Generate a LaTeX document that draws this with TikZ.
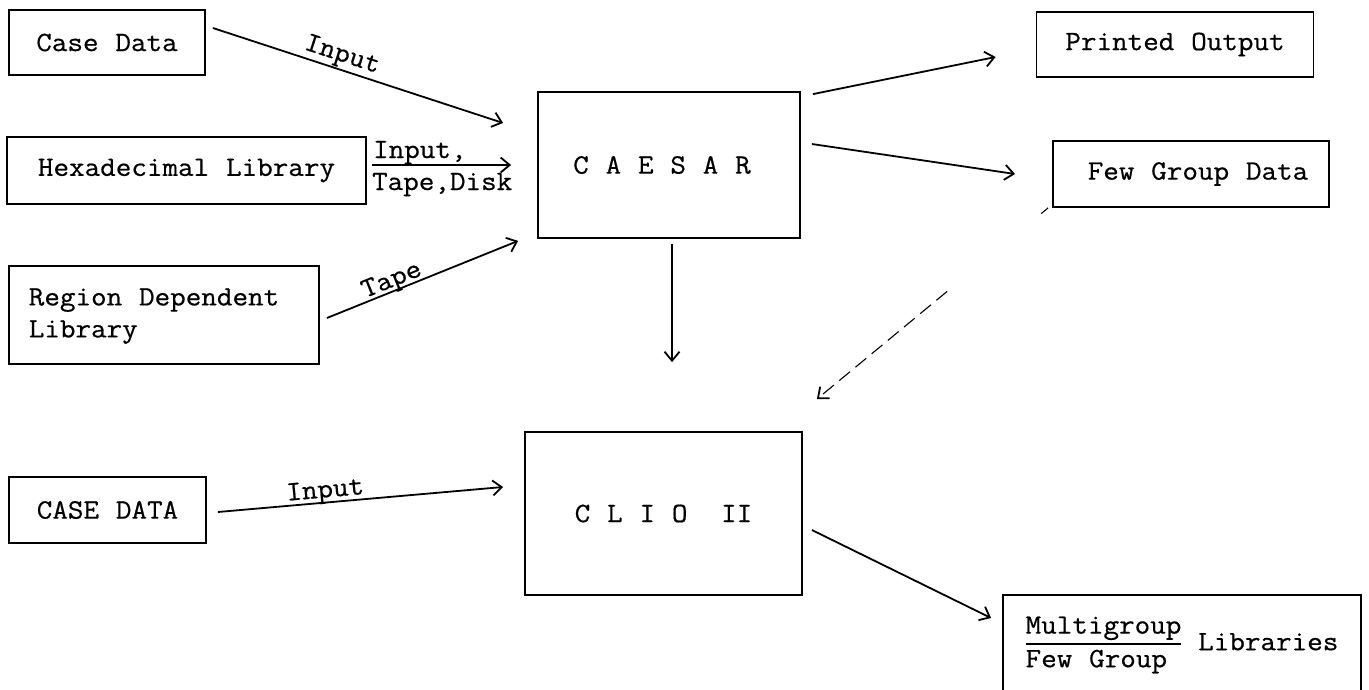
\documentclass[tikz,border=0pt]{standalone}
\usepackage{fontspec}
\newfontfamily\tw{Latin Modern Mono}[FakeStretch=1.08,FakeBold=0.6,WordSpace={1.08,0,0}]
\usetikzlibrary{arrows.meta,calc}
\setlength{\arrayrulewidth}{1.6pt}

\begin{document}
\begin{tikzpicture}[x=1pt,y=-1pt,
  box/.style={draw, line width=1.8pt, inner sep=0pt, font=\tw\fontsize{28}{32}\selectfont},
  flow/.style={line width=1.8pt, -{Straight Barb[length=9pt,width=15pt,line width=1.8pt]}},
  lbl/.style={font=\tw\fontsize{28}{32}\selectfont, inner sep=1pt}]
\useasboundingbox (0,0) rectangle (1369,689);

% input side
\node[box, minimum width=196pt, minimum height=65pt] (cd) at (107,42.5) {Case Data};
\node[box, minimum width=359pt, minimum height=67pt] (hex) at (186.5,170.5) {Hexadecimal Library};
\node[box, minimum width=310pt, minimum height=98pt] (reg) at (164,315)
  {\begin{tabular}{@{}l@{}}Region Dependent\\Library\end{tabular}\kern20pt};
\node[box, minimum width=197pt, minimum height=66pt] (cd2) at (107.5,510) {CASE DATA};

% processing codes
\node[box, minimum width=262pt, minimum height=146pt] (caesar) at (669,165) {C A E S A R\kern14pt};
\node[box, minimum width=277pt, minimum height=163pt] (clio) at (663.5,513.5) {C L I O\ \ II};

% outputs
\node[box, minimum width=277pt, minimum height=65pt] (po) at (1175,44.5) {Printed Output};
\node[box, minimum width=276pt, minimum height=66pt] (fg) at (1191,174) {\kern14pt Few Group Data};
\node[box, minimum width=358pt, minimum height=98pt] (mg) at (1182,644)
  {\begin{tabular}{@{}l@{}}Multigroup\\\hline Few Group\end{tabular} Libraries};

% connectors into CAESAR
\draw[flow] ($(cd.east)+(7,-14.5)$) -- node[lbl, pos=0.43, sloped, above] {Input} ($(caesar.west)+(-34,-42)$);
\draw[flow] ($(hex.east)+(5,-5.5)$) coordinate (hs) -- ($(caesar.west)+(-26,0)$);
\node[lbl, anchor=base west] at ($(hs)+(0,-7)$) {Input,};
\node[lbl, anchor=base west] at ($(hs)+(-1,25)$) {Tape,Disk};
\draw[flow] ($(reg.east)+(7,3)$) -- node[lbl, pos=0.36, sloped, above, inner sep=0pt, yshift=-3pt] {Tape} ($(caesar.south west)+(-19,2)$);

% connectors out of CAESAR
\draw[flow] ($(caesar.north east)+(12,3)$) -- ($(po.west)+(-40,12.5)$);
\draw[flow] ($(caesar.east)+(11,-21)$) -- ($(fg.west)+(-37,0)$);
\draw[flow] ($(caesar.south)+(3,5)$) -- ($(clio.north)+(8.5,-69)$);
\draw[flow, line width=1.1pt, dash pattern=on 9pt off 122pt on 14pt off 7pt on 14pt off 7pt on 14pt off 7pt on 14pt off 7pt on 14pt off 7pt on 14pt off 7pt on 14pt off 7pt on 14pt off 7pt]
  ($(fg.south west)+(-4,0)$) -- ($(clio.north east)+(14,-32)$);

% connectors around CLIO II
\draw[flow] ($(cd2.east)+(11,2)$) -- node[lbl, pos=0.38, sloped, above, inner sep=0pt, yshift=-2pt] {Input} ($(clio.west)+(-21,-26.5)$);
\draw[flow] ($(clio.east)+(9,16.5)$) -- ($(mg.west)+(-11,-26)$);
\end{tikzpicture}
\end{document}
